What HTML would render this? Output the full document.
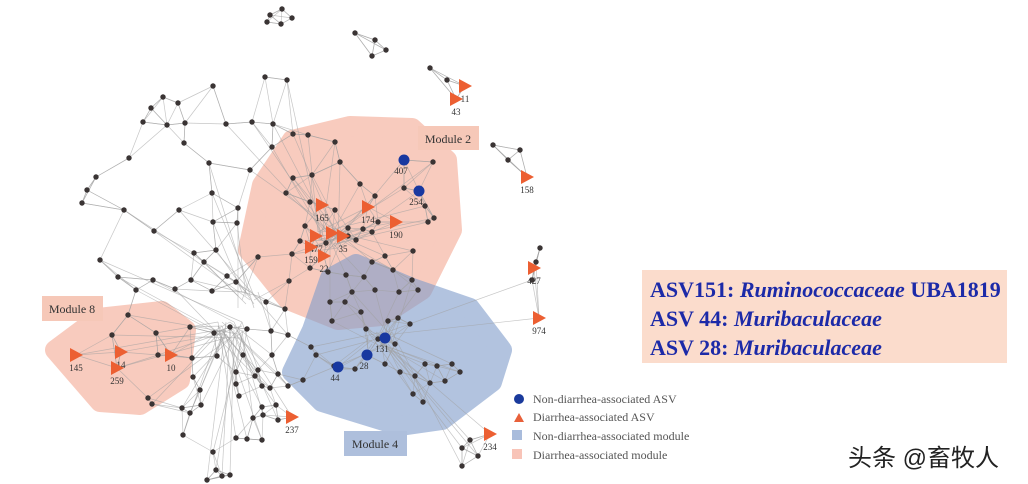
<!DOCTYPE html>
<html><head><meta charset="utf-8"><style>
body{margin:0;background:#fff;width:1028px;height:484px;overflow:hidden}
svg{display:block}
.lab{font-family:"Liberation Serif",serif;font-size:9px;fill:#333}
</style></head><body>
<svg width="1028" height="484" viewBox="0 0 1028 484">
<g id="modules"></g>
<g id="edges" stroke="#a0a0a0" stroke-width="0.7" stroke-opacity="0.6"></g>
<g id="nodes"></g>
<g><rect x="418" y="126" width="61" height="24" fill="#f6c8b8"/><text x="448" y="143" text-anchor="middle" font-family="Liberation Serif,serif" font-size="12" fill="#333">Module 2</text></g>
<g><rect x="42" y="296" width="61" height="25" fill="#f6c8b8"/><text x="72" y="313" text-anchor="middle" font-family="Liberation Serif,serif" font-size="12" fill="#333">Module 8</text></g>
<g><rect x="344" y="431" width="63" height="25" fill="#aebfdc"/><text x="375" y="448" text-anchor="middle" font-family="Liberation Serif,serif" font-size="12" fill="#333">Module 4</text></g>
<g>
<rect x="642" y="270" width="365" height="93" fill="#fbdccc"/>
<g font-family="Liberation Serif,serif" font-size="22" font-weight="bold" fill="#1c2aa8">
<text x="650" y="297">ASV151: <tspan font-style="italic">Ruminococcaceae</tspan> UBA1819</text>
<text x="650" y="326">ASV  44: <tspan font-style="italic">Muribaculaceae</tspan></text>
<text x="650" y="355">ASV  28: <tspan font-style="italic">Muribaculaceae</tspan></text>
</g></g>
<g font-family="Liberation Serif,serif" font-size="12" fill="#555">
<g><circle cx="519" cy="399" r="5" fill="#1a3a9c"/><text x="533" y="403">Non-diarrhea-associated ASV</text></g>
<g><polygon points="514,422 524,422 519,413" fill="#e8603a"/><text x="533" y="421">Diarrhea-associated ASV</text></g>
<g><rect x="512" y="430" width="10" height="10" fill="#a9bcdc"/><text x="533" y="440">Non-diarrhea-associated module</text></g>
<g><rect x="512" y="449" width="10" height="10" fill="#f8c4b8"/><text x="533" y="459">Diarrhea-associated module</text></g>
</g>
<text x="848" y="466" font-family="Liberation Sans,Noto Sans CJK SC,sans-serif" font-size="24" fill="#222">头条 @畜牧人</text>
</svg>
<script>
const NS='http://www.w3.org/2000/svg';
const modulePolys=[
 {name:'module-2-hull',fill:'#f5a994',op:0.6,pts:[[248,250],[262,185],[292,140],[350,126],[412,128],[447,160],[452,230],[422,290],[382,316],[338,320],[288,300]]},
 {name:'module-4-hull',fill:'#7f9ccb',op:0.6,pts:[[292,372],[312,330],[330,278],[356,264],[412,288],[470,308],[502,350],[492,382],[442,420],[400,426],[322,402]]},
 {name:'module-8-hull',fill:'#f5a994',op:0.6,pts:[[55,350],[98,318],[162,311],[186,330],[180,380],[140,405],[100,402]]}
];
const dots=[[270,15],[282,9],[292,18],[281,24],[267,22],[355,33],[375,40],[386,50],[372,56],[430,68],[447,80],[493,145],[508,160],[520,150],[540,248],[536,262],[532,280],[462,448],[470,440],[478,456],[462,466],
[265,77],[287,80],[213,86],[163,97],[178,103],[151,108],[143,122],[167,125],[185,123],[226,124],[252,122],[273,124],[184,143],[293,134],[308,135],[335,142],[272,147],[129,158],[209,163],[250,170],[293,178],[96,177],[87,190],[82,203],[124,210],[212,193],[286,193],[179,210],[238,208],[213,222],[237,223],[154,231],[216,250],[292,254],[100,260],[194,253],[258,257],[204,262],[118,277],[153,280],[191,280],[227,276],[136,290],[175,289],[212,291],[236,282],[289,281],[128,315],[112,335],[156,333],[190,327],[214,333],[230,327],[247,329],[271,331],[158,355],[192,358],[217,356],[243,355],[272,355],[288,335],[193,377],[236,372],[255,376],[278,374],[200,390],[236,384],[262,386],[288,386],[201,405],[239,396],[262,407],[276,405],[303,380],[311,347],[316,355],[336,369],[366,329],[378,339],[395,344],[385,364],[400,372],[415,376],[437,366],[413,394],[430,383],[445,381],[460,372],[425,364],[423,402],[452,364],[334,366],[355,369],[410,324],[399,292],[418,290],[375,290],[388,321],[361,312],[345,302],[364,277],[346,275],[310,268],[328,272],[258,370],[270,388],[152,404],[182,408],[148,398],[278,420],[263,415],[253,418],[183,435],[247,439],[207,480],[222,476],[230,475],[216,470],[213,452],[236,438],[262,440],[190,413],[330,302],[332,321],[352,292],[372,262],[363,229],[348,236],[375,196],[385,256],[393,270],[398,318],[412,280],[433,162],[425,206],[404,188],[434,218],[428,222],[340,162],[312,175],[335,210],[310,202],[360,184],[378,222],[413,251],[285,309],[266,302],[305,226],[348,228],[356,240],[326,243],[300,241],[372,232]];
const triangles=[[322,205,'165'],[368,207,'174'],[396,222,'190'],[316,236,'477'],[332,233,''],[343,236,'35'],[324,256,'22'],[311,247,'159'],[76,355,'145'],[121,352,'14'],[117,368,'259'],[171,355,'10'],[292,417,'237'],[465,86,'11'],[456,99,'43'],[527,177,'158'],[534,268,'427'],[539,318,'974'],[490,434,'234']];
const blues=[[404,160,'407'],[419,191,'254'],[385,338,'131'],[367,355,'28'],[338,367,'44']];
function mk(t,a,p){const e=document.createElementNS(NS,t);for(const k in a)e.setAttribute(k,a[k]);p.appendChild(e);return e;}
const gm=document.getElementById('modules');
modulePolys.forEach(m=>{const g=mk('g',{opacity:m.op},gm);


mk('polygon',{points:m.pts.map(p=>p.join(',')).join(' '),fill:m.fill,'stroke-linejoin':'round',stroke:m.fill,'stroke-width':20},g);});
const all=dots.map(d=>[d[0],d[1]]).concat(triangles.map(d=>[d[0],d[1]]),blues.map(d=>[d[0],d[1]]));
const ge=document.getElementById('edges');
const hubs=[[230,330],[330,240],[250,300],[380,340]];
all.forEach((p,i)=>{
 const ds=all.map((q,j)=>[Math.hypot(p[0]-q[0],p[1]-q[1]),j]).filter(x=>x[1]!==i).sort((a,b)=>a[0]-b[0]);
 for(let k=0;k<3;k++){const q=all[ds[k][1]];if(ds[k][0]<60)mk('line',{x1:p[0],y1:p[1],x2:q[0],y2:q[1]},ge);}
 let h=hubs.map(hh=>[Math.hypot(p[0]-hh[0],p[1]-hh[1]),hh]).sort((a,b)=>a[0]-b[0])[0];
 if(h[0]<170)mk('line',{x1:p[0],y1:p[1],x2:h[1][0]+(i%7-3)*4,y2:h[1][1]+(i%5-2)*4},ge);
});
const gn=document.getElementById('nodes');
dots.forEach(d=>{const c=mk('circle',{cx:d[0],cy:d[1],r:2.7,fill:'#3a3434'},gn);

});
triangles.forEach(d=>{const x=d[0],y=d[1];const t=mk('polygon',{points:`${x-6},${y-7} ${x+7},${y} ${x-6},${y+7}`,fill:'#ec5f32'},gn);


if(d[2])mk('text',{x:x,y:y+16,'text-anchor':'middle',class:'lab'},gn).textContent=d[2];});
blues.forEach(d=>{const c=mk('circle',{cx:d[0],cy:d[1],r:5.5,fill:'#1838a0'},gn);


mk('text',{x:d[0]-3,y:d[1]+14,'text-anchor':'middle',class:'lab'},gn).textContent=d[2];});
</script>
</body></html>
